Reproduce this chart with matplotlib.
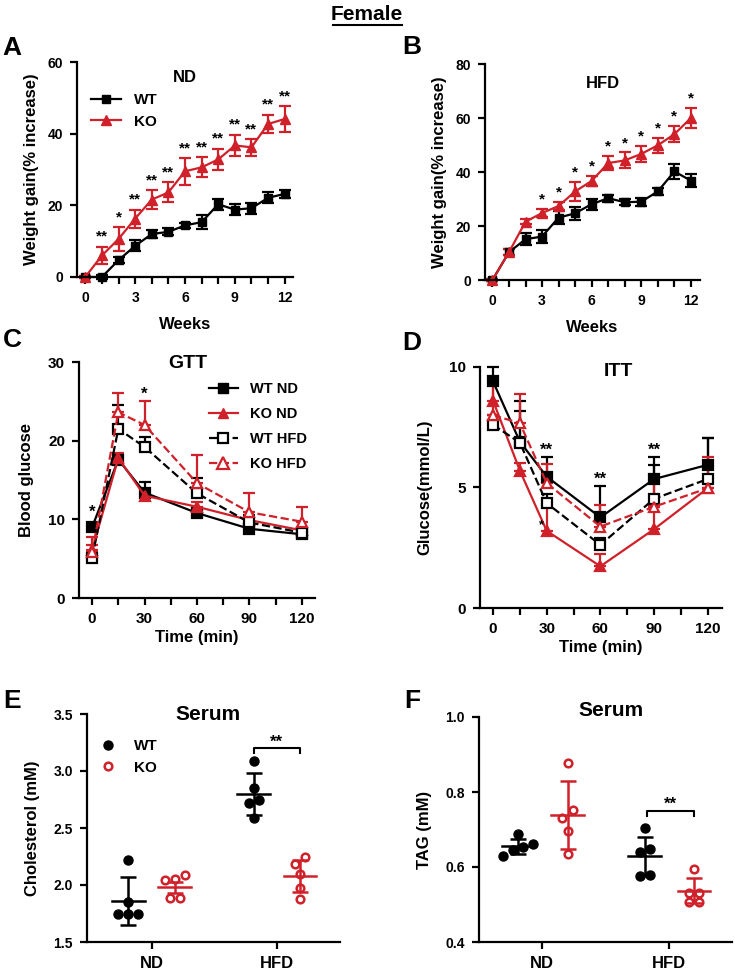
import numpy as np
import matplotlib
matplotlib.use("Agg")
import matplotlib.pyplot as plt
from matplotlib.lines import Line2D

plt.rcParams['font.family'] = ['Liberation Sans', 'DejaVu Sans']
plt.rcParams['font.weight'] = 'bold'
plt.rcParams['axes.labelweight'] = 'bold'

RED = "#d0212a"
W, H = 735, 971

# ---- A: weight gain ND ----
weeks = np.arange(13)
a_wt = [0, 0, 4.7, 8.7, 12.0, 12.6, 14.4, 15.3, 20.3, 18.8, 19.2, 22.1, 23.2]
a_wt_err = [0.3, 0.5, 0.8, 1.5, 1.0, 1.0, 0.8, 2.0, 1.5, 1.5, 1.5, 1.5, 1.2]
a_ko = [0, 6.0, 10.6, 16.3, 21.6, 23.6, 29.5, 30.6, 32.8, 36.7, 36.2, 42.7, 44.1]
a_ko_err = [0.3, 2.5, 3.3, 2.5, 2.7, 2.8, 3.7, 2.8, 3.0, 3.0, 2.3, 2.6, 3.5]
a_stars = ["", "**", "*", "**", "**", "**", "**", "**", "**", "**", "**", "**", "**"]

# ---- B: weight gain HFD ----
b_wt = [0, 10.3, 15.1, 16.1, 23.1, 24.7, 28.1, 30.3, 28.8, 29.0, 32.8, 40.2, 36.8]
b_wt_err = [0.5, 1.0, 2.3, 2.5, 2.3, 2.5, 2.0, 1.3, 1.2, 1.5, 1.3, 2.8, 2.3]
b_ko = [0, 10.3, 21.6, 24.8, 27.4, 32.8, 36.7, 43.3, 44.3, 46.7, 49.9, 54.0, 60.0]
b_ko_err = [0.5, 1.0, 1.0, 1.5, 1.5, 3.5, 2.0, 2.7, 3.0, 3.0, 2.8, 3.0, 3.8]
b_stars = ["", "", "", "*", "*", "*", "*", "*", "*", "*", "*", "*", "*"]

# ---- C: GTT ----
times = [0, 15, 30, 60, 90, 120]
c_wt_nd = [9.0, 17.6, 13.4, 10.8, 8.8, 8.1]
c_wt_nd_err = [0.4, 0.6, 1.4, 0.5, 0.4, 0.4]
c_ko_nd = [6.1, 17.8, 13.0, 11.6, 9.9, 8.6]
c_ko_nd_err = [1.7, 0.6, 0.5, 0.6, 0.4, 0.3]
c_wt_hfd = [5.1, 21.5, 19.2, 13.3, 9.6, 8.3]
c_wt_hfd_err = [0.4, 3.0, 1.3, 2.0, 1.0, 0.5]
c_ko_hfd = [5.8, 23.6, 22.0, 14.6, 10.9, 9.7]
c_ko_hfd_err = [1.0, 2.4, 3.0, 3.6, 2.5, 1.9]

# ---- D: ITT ----
d_wt_nd = [9.4, 6.9, 5.45, 3.76, 5.35, 5.94]
d_wt_nd_err = [0.6, 1.7, 0.8, 1.3, 0.9, 1.1]
d_ko_nd = [8.6, 5.7, 3.2, 1.73, 3.27, 4.97]
d_ko_nd_err = [1.0, 0.3, 1.0, 0.5, 1.0, 0.3]
d_wt_hfd = [7.6, 6.86, 4.35, 2.62, 4.53, 5.35]
d_wt_hfd_err = [0.4, 1.3, 0.4, 0.3, 1.4, 1.7]
d_ko_hfd = [8.0, 7.67, 5.18, 3.38, 4.2, 4.97]
d_ko_hfd_err = [1.6, 1.2, 0.8, 0.9, 1.2, 1.3]

# ---- E: serum cholesterol ----
groups = ["ND", "HFD"]
e_wt_pts = [[2.22, 1.85, 1.75, 1.75, 1.75], [3.09, 2.85, 2.75, 2.72, 2.59]]
e_ko_pts = [[2.05, 2.04, 2.09, 1.89, 1.89], [2.25, 2.18, 2.10, 1.97, 1.88]]
e_wt_mean = [1.86, 2.80]
e_wt_sd = [0.21, 0.185]
e_ko_mean = [1.98, 2.08]
e_ko_sd = [0.05, 0.14]

# ---- F: serum TAG ----
f_wt_pts = [[0.688, 0.653, 0.662, 0.628, 0.646], [0.703, 0.648, 0.639, 0.575, 0.579]]
f_ko_pts = [[0.878, 0.752, 0.732, 0.697, 0.635], [0.596, 0.530, 0.530, 0.508, 0.508]]
f_wt_mean = [0.655, 0.628]
f_wt_sd = [0.02, 0.053]
f_ko_mean = [0.739, 0.537]
f_ko_sd = [0.09, 0.033]


def px_axes(fig, x0, y0, x1, y1):
    return fig.add_axes([x0 / W, 1 - y1 / H, (x1 - x0) / W, (y1 - y0) / H])


def fx(x):
    return x / W


def fy(y):
    return 1 - y / H


def style(ax, size=10):
    for s in ["top", "right"]:
        ax.spines[s].set_visible(False)
    for s in ["left", "bottom"]:
        ax.spines[s].set_linewidth(1.6)
    ax.tick_params(width=1.6, length=5, labelsize=size, pad=5)
    ax.tick_params(which="minor", width=1.6, length=5)
    for lab in ax.get_xticklabels() + ax.get_yticklabels():
        lab.set_fontweight("bold")


def swarm(vals, tol, dx):
    # spread points that sit at nearly the same height, centred on 0
    order = np.argsort(vals)
    offs = np.zeros(len(vals))
    cluster = [order[0]]
    clusters = []
    for k in order[1:]:
        if vals[k] - vals[cluster[-1]] < tol:
            cluster.append(k)
        else:
            clusters.append(cluster)
            cluster = [k]
    clusters.append(cluster)
    for cl in clusters:
        n = len(cl)
        for j, k in enumerate(cl):
            offs[k] = (j - (n - 1) / 2) * dx
    return offs


fig = plt.figure(figsize=(W / 100, H / 100), dpi=100)

# title
fig.text(fx(367), fy(14), "Female", ha="center", va="center", fontsize=15, fontweight="bold")
fig.add_artist(Line2D([fx(333), fx(402)], [fy(25), fy(25)], color="black", lw=1.5))

for lab, x, y in [("A", 12, 48), ("B", 412, 47), ("C", 12, 340), ("D", 412, 343), ("E", 12, 701), ("F", 412, 701)]:
    fig.text(fx(x), fy(y), lab, ha="center", va="center", fontsize=19, fontweight="bold")

ebkw = dict(capsize=4, elinewidth=1.6, capthick=1.6)

# Panel A
ax = px_axes(fig, 77, 62, 293, 277)
ax.errorbar(weeks, a_wt, yerr=a_wt_err, color="black", marker="s", ms=6, lw=1.6, clip_on=False, **ebkw)
ax.errorbar(weeks, a_ko, yerr=a_ko_err, color=RED, marker="^", ms=7.5, lw=1.6, clip_on=False, **ebkw)
for w, s, m, e in zip(weeks, a_stars, a_ko, a_ko_err):
    if s:
        ax.text(w, m + e + 0.8, s, ha="center", va="bottom", fontsize=11, fontweight="bold")
ax.set_xlim(-0.5, 12.5)
ax.set_ylim(0, 60)
ax.set_xticks([0, 3, 6, 9, 12])
ax.set_xticks(weeks, minor=True)
ax.set_yticks([0, 20, 40, 60])
ax.set_xlabel("Weeks", fontsize=12, labelpad=9)
ax.set_ylabel("Weight gain(% increase)", fontsize=12, labelpad=6)
ax.text(0.5, 0.93, "ND", transform=ax.transAxes, ha="center", va="center", fontsize=12, fontweight="bold")
handles = [Line2D([], [], color="black", marker="s", ms=6, lw=1.6, label="WT"),
           Line2D([], [], color=RED, marker="^", ms=7.5, lw=1.6, label="KO")]
ax.legend(handles=handles, loc="upper left", bbox_to_anchor=(0.0, 0.92), frameon=False, fontsize=11,
          handlelength=2.0, handletextpad=0.8)
style(ax)

# Panel B
ax = px_axes(fig, 485, 64, 700, 280)
ax.errorbar(weeks, b_wt, yerr=b_wt_err, color="black", marker="s", ms=6, lw=1.6, clip_on=False, **ebkw)
ax.errorbar(weeks, b_ko, yerr=b_ko_err, color=RED, marker="^", ms=7.5, lw=1.6, clip_on=False, **ebkw)
for w, s, m, e in zip(weeks, b_stars, b_ko, b_ko_err):
    if s:
        ax.text(w, m + e + 0.8, s, ha="center", va="bottom", fontsize=11, fontweight="bold")
ax.set_xlim(-0.45, 12.55)
ax.set_ylim(0, 80)
ax.set_xticks([0, 3, 6, 9, 12])
ax.set_xticks(weeks, minor=True)
ax.set_yticks([0, 20, 40, 60, 80])
ax.set_xlabel("Weeks", fontsize=12, labelpad=9)
ax.set_ylabel("Weight gain(% increase)", fontsize=12, labelpad=6)
ax.text(0.55, 0.91, "HFD", transform=ax.transAxes, ha="center", va="center", fontsize=12, fontweight="bold")
style(ax)


def curve(ax, y, err, color, marker, ls, filled):
    z = np.zeros(len(err))
    ax.errorbar(times, y, yerr=[z, err], color=color, marker=marker, ls=ls, lw=1.6,
                ms=7 if marker == "s" else 7.5, mfc=color if filled else "white", mew=1.6,
                clip_on=False, **ebkw)


# Panel C
ax = px_axes(fig, 79, 362, 315, 598)
curve(ax, c_wt_nd, c_wt_nd_err, "black", "s", "-", True)
curve(ax, c_ko_nd, c_ko_nd_err, RED, "^", "-", True)
curve(ax, c_wt_hfd, c_wt_hfd_err, "black", "s", "--", False)
curve(ax, c_ko_hfd, c_ko_hfd_err, RED, "^", "--", False)
ax.text(0, 9.9, "*", ha="center", va="bottom", fontsize=12, fontweight="bold")
ax.text(30, 25.0, "*", ha="center", va="bottom", fontsize=12, fontweight="bold")
ax.set_xlim(-7.5, 127.5)
ax.set_ylim(0, 30)
ax.set_xticks([0, 30, 60, 90, 120])
ax.set_xticks(np.arange(0, 121, 15), minor=True)
ax.set_yticks([0, 10, 20, 30])
ax.set_xlabel("Time (min)", fontsize=12, labelpad=3)
ax.set_ylabel("Blood glucose", fontsize=12, labelpad=10)
ax.text(0.46, 0.995, "GTT", transform=ax.transAxes, ha="center", va="center", fontsize=14, fontweight="bold")
handles = [Line2D([], [], color="black", marker="s", ms=7, lw=1.6, ls="-", label="WT ND"),
           Line2D([], [], color=RED, marker="^", ms=7, lw=1.6, ls="-", label="KO ND"),
           Line2D([], [], color="black", marker="s", ms=7, lw=1.6, ls="--", mfc="white", mew=1.6, label="WT HFD"),
           Line2D([], [], color=RED, marker="^", ms=8, lw=1.6, ls="--", mfc="white", mew=1.6, label="KO HFD")]
ax.legend(handles=handles, loc="upper right", bbox_to_anchor=(1.02, 0.97), frameon=False, fontsize=10.5,
          handlelength=2.0, handletextpad=0.8, labelspacing=0.75)
style(ax, 11)

# Panel D
ax = px_axes(fig, 480, 367, 722, 608)
curve(ax, d_wt_nd, d_wt_nd_err, "black", "s", "-", True)
curve(ax, d_ko_nd, d_ko_nd_err, RED, "^", "-", True)
curve(ax, d_wt_hfd, d_wt_hfd_err, "black", "s", "--", False)
curve(ax, d_ko_hfd, d_ko_hfd_err, RED, "^", "--", False)
for t, yy in [(30, 6.25), (60, 5.05), (90, 6.25)]:
    ax.text(t, yy, "**", ha="center", va="bottom", fontsize=12, fontweight="bold")
ax.text(27, 3.2, "*", ha="center", va="bottom", fontsize=9, fontweight="bold")
ax.set_xlim(-7.3, 128)
ax.set_ylim(0, 10)
ax.set_xticks([0, 30, 60, 90, 120])
ax.set_xticks(np.arange(0, 121, 15), minor=True)
ax.set_yticks([0, 5, 10])
ax.set_xlabel("Time (min)", fontsize=12, labelpad=3)
ax.set_ylabel("Glucose(mmol/L)", fontsize=12, labelpad=12)
ax.text(0.57, 0.98, "ITT", transform=ax.transAxes, ha="center", va="center", fontsize=14, fontweight="bold")
style(ax, 11)


def scatter_panel(ax, wt_pts, ko_pts, wt_mean, wt_sd, ko_mean, ko_sd, off_wt, off_ko, tol, legend):
    pos = np.arange(len(groups))
    for i in pos:
        wv = np.array(wt_pts[i])
        kv = np.array(ko_pts[i])
        ax.plot(i + off_wt + swarm(wv, tol, 0.08), wv, "o", color="black", ms=6.5, clip_on=False,
                label="WT" if (legend and i == 0) else None)
        ax.plot(i + off_ko + swarm(kv, tol, 0.08), kv, "o", color=RED, mfc="white", mew=1.8, ms=5.5,
                clip_on=False, label="KO" if (legend and i == 0) else None)
        for off, m, sd, c in [(off_wt, wt_mean[i], wt_sd[i], "black"), (off_ko, ko_mean[i], ko_sd[i], RED)]:
            ax.plot([i + off - 0.13, i + off + 0.13], [m, m], color=c, lw=1.8)
            ax.errorbar([i + off], [m], yerr=[sd], color=c, capsize=6, elinewidth=1.8, capthick=1.8, fmt="none")
    ax.set_xticks(pos)
    ax.set_xticklabels(groups)


# Panel E
ax = px_axes(fig, 87, 714, 340, 942)
scatter_panel(ax, e_wt_pts, e_ko_pts, e_wt_mean, e_wt_sd, e_ko_mean, e_ko_sd, -0.19, 0.18, 0.07, True)
ax.plot([0.81, 0.81, 1.18, 1.18], [3.16, 3.20, 3.20, 3.16], color="black", lw=1.5)
ax.text(0.995, 3.19, "**", ha="center", va="bottom", fontsize=12, fontweight="bold")
ax.set_xlim(-0.52, 1.5)
ax.set_ylim(1.5, 3.5)
ax.set_yticks([1.5, 2.0, 2.5, 3.0, 3.5])
ax.set_ylabel("Cholesterol (mM)", fontsize=12, labelpad=10)
ax.text(0.48, 1.0, "Serum", transform=ax.transAxes, ha="center", va="center", fontsize=15, fontweight="bold")
ax.legend(loc="upper left", bbox_to_anchor=(0.0, 0.95), frameon=False, fontsize=11, handletextpad=1.2,
          labelspacing=0.5, handlelength=1.0)
style(ax)
ax.tick_params(axis="x", labelsize=12)

# Panel F
ax = px_axes(fig, 479, 717, 732, 942)
scatter_panel(ax, f_wt_pts, f_ko_pts, f_wt_mean, f_wt_sd, f_ko_mean, f_ko_sd, -0.19, 0.2, 0.022, False)
ax.plot([0.83, 0.83, 1.2, 1.2], [0.737, 0.75, 0.75, 0.737], color="black", lw=1.5)
ax.text(1.015, 0.747, "**", ha="center", va="bottom", fontsize=12, fontweight="bold")
ax.set_xlim(-0.5, 1.5)
ax.set_ylim(0.4, 1.0)
ax.set_yticks([0.4, 0.6, 0.8, 1.0])
ax.set_ylabel("TAG (mM)", fontsize=12, labelpad=10)
ax.text(0.52, 1.03, "Serum", transform=ax.transAxes, ha="center", va="center", fontsize=15, fontweight="bold")
style(ax)
ax.tick_params(axis="x", labelsize=12)

fig.savefig("out.png", dpi=100)
